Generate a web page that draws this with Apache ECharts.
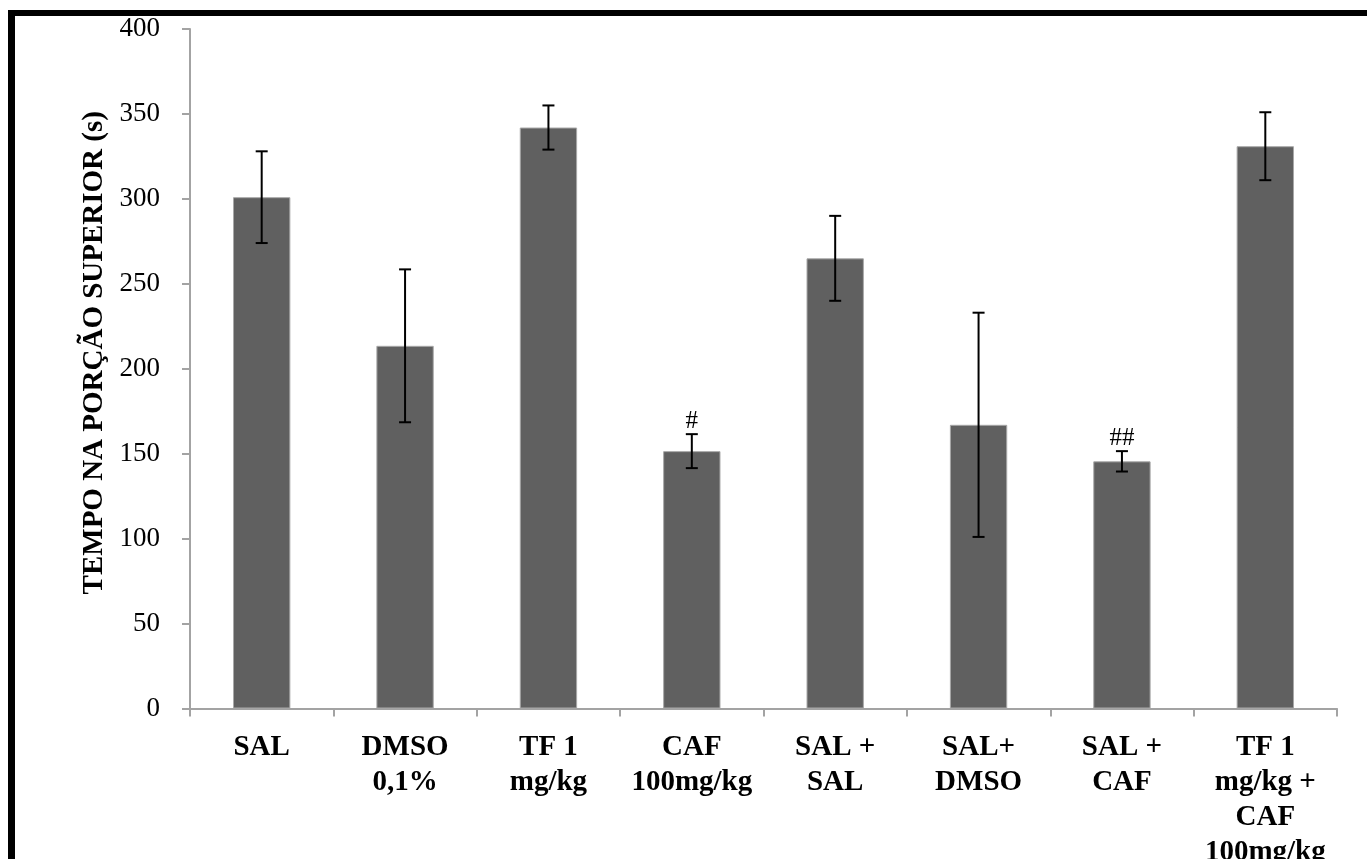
<!DOCTYPE html>
<html>
<head>
<meta charset="utf-8">
<script src="https://cdn.jsdelivr.net/npm/echarts@6/dist/echarts.min.js"></script>
<style>
  html, body { margin: 0; padding: 0; background: #fff; overflow: hidden; }
  #chart { width: 1367px; height: 859px; }
</style>
</head>
<body>
<div id="chart"></div>
<script>
// Groups on the x axis
const categories = [
  'SAL', 'DMSO\n0,1%', 'TF 1\nmg/kg', 'CAF\n100mg/kg',
  'SAL +\nSAL', 'SAL+\nDMSO', 'SAL +\nCAF', 'TF 1\nmg/kg +\nCAF\n100mg/kg'
];
// Mean time in the upper portion (s)
const means = [301, 213.5, 342, 151.5, 265, 167, 145.5, 331];
// Standard error of the mean (s)
const sems = [27, 45, 13, 10, 25, 66, 6, 20];
// Significance marks drawn above the error bars
const marks = ['', '', '', '#', '', '', '##', ''];
// Y axis range
const yMin = 0, yMax = 400, yStep = 50;

const serif = "'Liberation Serif', 'Times New Roman', serif";
const axisGrey = '#a3a3a3';

const chart = echarts.init(document.getElementById('chart'));

const errorData = means.map((m, i) => [i, m - sems[i], m + sems[i], marks[i]]);

chart.setOption({
  animation: false,
  backgroundColor: '#fff',
  grid: {
    left: 190, right: 30, top: 29, bottom: 150.5,
    containLabel: false,
    outerBoundsMode: 'none'
  },
  xAxis: {
    type: 'category',
    data: categories,
    axisLine: { lineStyle: { color: axisGrey, width: 2 } },
    axisTick: { show: true, length: 8, alignWithLabel: false, lineStyle: { color: axisGrey, width: 2 } },
    axisLabel: {
      interval: 0,
      margin: 22,
      color: '#000',
      fontFamily: serif,
      fontWeight: 'bold',
      fontSize: 29,
      lineHeight: 35
    }
  },
  yAxis: {
    type: 'value',
    min: yMin,
    max: yMax,
    interval: yStep,
    name: 'TEMPO NA PORÇÃO SUPERIOR (s)',
    nameLocation: 'middle',
    nameGap: 80,
    nameTextStyle: {
      color: '#000',
      fontFamily: serif,
      fontWeight: 'bold',
      fontSize: 29,
      padding: [0, 0, 0, 32]
    },
    axisLine: { show: true, lineStyle: { color: axisGrey, width: 2 } },
    axisTick: { show: true, length: 8, lineStyle: { color: axisGrey, width: 2 } },
    splitLine: { show: false },
    axisLabel: {
      margin: 30,
      color: '#000',
      fontFamily: serif,
      fontSize: 27,
      padding: [8, 0, 0, 0]
    }
  },
  series: [
    {
      type: 'bar',
      data: means,
      barCategoryGap: '60%',
      itemStyle: { color: '#606060', borderColor: '#a8a8a8', borderWidth: 1 }
    },
    {
      type: 'custom',
      data: errorData,
      z: 10,
      renderItem: function (params, api) {
        const x = api.value(0);
        const lo = api.coord([x, api.value(1)]);
        const hi = api.coord([x, api.value(2)]);
        const cap = 6;
        const style = { stroke: '#000', lineWidth: 2 };
        const children = [
          { type: 'line', shape: { x1: hi[0], y1: hi[1], x2: lo[0], y2: lo[1] }, style: style },
          { type: 'line', shape: { x1: hi[0] - cap, y1: hi[1], x2: hi[0] + cap, y2: hi[1] }, style: style },
          { type: 'line', shape: { x1: lo[0] - cap, y1: lo[1], x2: lo[0] + cap, y2: lo[1] }, style: style }
        ];
        const mark = api.value(3);
        if (mark) {
          children.push({
            type: 'text',
            x: hi[0],
            y: hi[1],
            style: {
              text: mark,
              fill: '#000',
              font: '25px ' + serif,
              align: 'center',
              verticalAlign: 'bottom'
            }
          });
        }
        return { type: 'group', children: children };
      }
    }
  ],
  graphic: [
    { type: 'rect', shape: { x: 8, y: 10, width: 1367 - 8, height: 6 }, style: { fill: '#000' } },
    { type: 'rect', shape: { x: 8, y: 10, width: 7, height: 859 - 10 }, style: { fill: '#000' } }
  ]
});
</script>
</body>
</html>
